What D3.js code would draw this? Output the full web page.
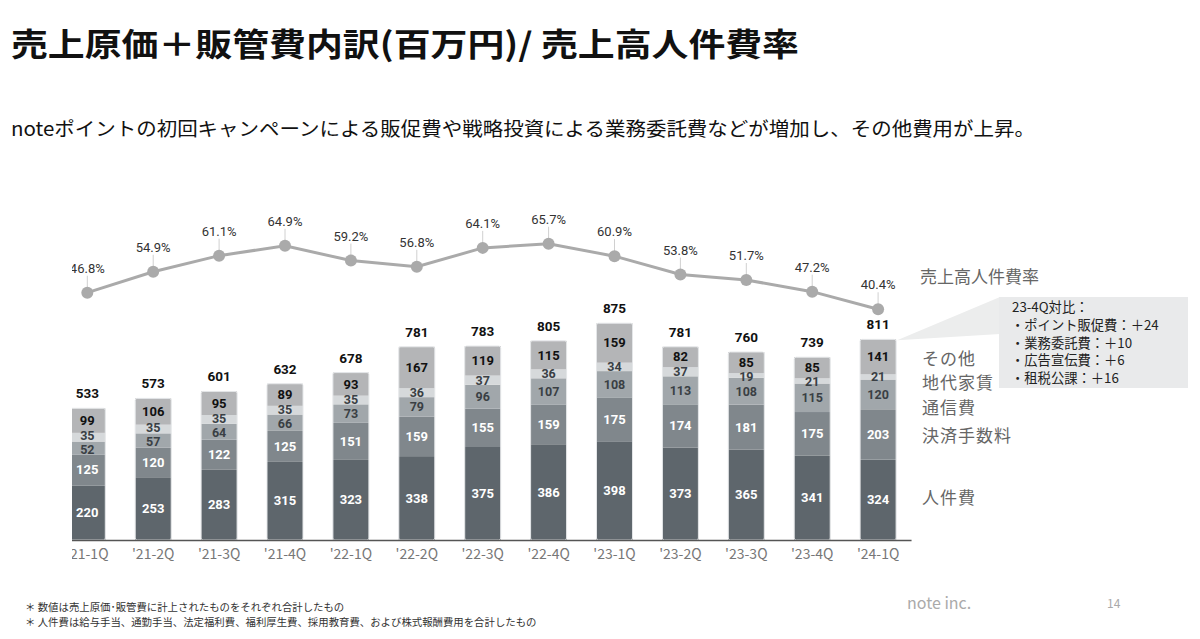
<!DOCTYPE html>
<html><head><meta charset="utf-8">
<script src="https://cdn.jsdelivr.net/npm/d3@7/dist/d3.min.js"></script>
<style>
html,body{margin:0;padding:0;background:#fff;}
svg{display:block;}
text{font-family:"Noto Sans CJK JP","Noto Sans",sans-serif;}
.num{font-family:Roboto,"Noto Sans",sans-serif;}
</style></head>
<body>
<svg id="c" width="1200" height="639"></svg>
<script>
const quarters = ["'21-1Q","'21-2Q","'21-3Q","'21-4Q","'22-1Q","'22-2Q","'22-3Q","'22-4Q","'23-1Q","'23-2Q","'23-3Q","'23-4Q","'24-1Q"];
const personnel = [220,253,283,315,323,338,375,386,398,373,365,341,324];
const payment   = [125,120,122,125,151,159,155,159,175,174,181,175,203];
const telecom   = [52,57,64,66,73,79,96,107,108,113,108,115,120];
const rent      = [35,35,35,35,35,36,37,36,34,37,19,21,21];
const other     = [99,106,95,89,93,167,119,115,159,82,85,85,141];
const totals    = [533,573,601,632,678,781,783,805,875,781,760,739,811];
const ratio     = [46.8,54.9,61.1,64.9,59.2,56.8,64.1,65.7,60.9,53.8,51.7,47.2,40.4];
const seriesNames = ["人件費","決済手数料","通信費","地代家賃","その他"];
const seriesData = [personnel,payment,telecom,rent,other];
const ratioName = "売上高人件費率";
const calloutLines = ["23-4Q対比：","・ポイント販促費：＋24","・業務委託費：＋10","・広告宣伝費：＋6","・租税公課：＋16"];
const footnotes = ["＊ 数値は売上原価･販管費に計上されたものをそれぞれ合計したもの","＊ 人件費は給与手当、通勤手当、法定福利費、福利厚生費、採用教育費、および株式報酬費用を合計したもの"];

const colors = ["#5e666c","#80878c","#a1a7ab","#d6d9db","#b4b5b7"];
const labelColors = ["#ffffff","#ffffff","#3a3f44","#3a3f44","#111111"];
const labelSizes = [13,13,12.5,12.5,13];
const legendY = [498,436,408,383,359];

const svg = d3.select("#c");

svg.append("text").attr("x",11).attr("y",56).attr("font-size",32).attr("font-weight",700)
  .attr("fill","#111").attr("textLength",788).attr("lengthAdjust","spacingAndGlyphs")
  .text("売上原価＋販管費内訳(百万円)/ 売上高人件費率");
svg.append("text").attr("x",11).attr("y",136).attr("font-size",19)
  .attr("fill","#111").attr("textLength",1024).attr("lengthAdjust","spacingAndGlyphs")
  .text("noteポイントの初回キャンペーンによる販促費や戦略投資による業務委託費などが増加し、その他費用が上昇。");

const x = d3.scaleBand().domain(quarters).range([54.35,911.05]).paddingInner(0.454).paddingOuter(0.227);
const y = d3.scaleLinear().domain([0,875]).range([540,323]);
const yr = d3.scaleLinear().domain([40,70]).range([310.3,232.6]);

svg.append("defs").append("clipPath").attr("id","clipL")
  .append("rect").attr("x",72).attr("y",0).attr("width",1128).attr("height",639);

const g = svg.append("g").attr("clip-path","url(#clipL)");

const rows = quarters.map((q,i)=>{const o={q}; seriesNames.forEach((s,k)=>o[s]=seriesData[k][i]); return o;});
const stack = d3.stack().keys(seriesNames)(rows);

stack.forEach((layer,k)=>{
  g.append("g").selectAll("rect").data(layer).join("rect")
    .attr("x",d=>x(d.data.q)).attr("width",x.bandwidth())
    .attr("y",d=>y(d[1])).attr("height",d=>y(d[0])-y(d[1]))
    .attr("fill",colors[k]);
});
g.append("g").selectAll("rect").data(stack[4]).join("rect")
  .attr("x",d=>x(d.data.q)).attr("width",x.bandwidth())
  .attr("y",d=>y(d[1])).attr("height",d=>y(0)-y(d[1]))
  .attr("fill","none").attr("stroke","#e4e6e8").attr("stroke-width",1).attr("rx",2);

const minGap = 14;
const labelPos = quarters.map((q,i)=>{
  const ys = stack.map(layer=>(y(layer[i][0])+y(layer[i][1]))/2);
  for(let iter=0;iter<8;iter++){
    for(let k=1;k<ys.length;k++){
      const gap = ys[k-1]-ys[k];
      if(gap<minGap){const sh=(minGap-gap)/2; ys[k-1]+=sh; ys[k]-=sh;}
    }
  }
  return ys;
});

stack.forEach((layer,k)=>{
  g.append("g").selectAll("text").data(layer).join("text").attr("class","num")
    .attr("x",d=>x(d.data.q)+x.bandwidth()/2)
    .attr("y",(d,i)=>labelPos[i][k]+4.5)
    .attr("text-anchor","middle").attr("font-size",labelSizes[k]).attr("font-weight",700)
    .attr("fill",labelColors[k]).text(d=>d.data[seriesNames[k]]);
});
g.append("g").selectAll("text").data(stack[4]).join("text").attr("class","num")
  .attr("x",d=>x(d.data.q)+x.bandwidth()/2).attr("y",(d,i)=>y(d[1])-10)
  .attr("text-anchor","middle").attr("font-size",13.5).attr("font-weight",700)
  .attr("fill","#111").text((d,i)=>totals[i]);

const ax = g.append("g").attr("transform","translate(0,540)")
  .call(d3.axisBottom(x).tickSize(0).tickPadding(9));
ax.select(".domain").attr("stroke","#555").attr("stroke-width",1.5);
ax.selectAll("text").attr("font-family","Roboto,sans-serif").attr("font-size",14).attr("fill","#777");

const cx = q=>x(q)+x.bandwidth()/2;
const pts = quarters.map((q,i)=>[cx(q),yr(ratio[i])]);
g.append("g").selectAll("line").data(pts).join("line")
  .attr("x1",d=>d[0]).attr("x2",d=>d[0]).attr("y1",d=>d[1]-17).attr("y2",d=>d[1])
  .attr("stroke","#d0d0d0").attr("stroke-width",1);
g.append("path").datum(pts).attr("d",d3.line()).attr("fill","none").attr("stroke","#aaaaaa").attr("stroke-width",3);
g.append("g").selectAll("circle").data(pts).join("circle")
  .attr("cx",d=>d[0]).attr("cy",d=>d[1]).attr("r",6).attr("fill","#aaaaaa");
g.append("g").selectAll("text").data(pts).join("text").attr("class","num")
  .attr("x",d=>d[0]).attr("y",d=>d[1]-20).attr("text-anchor","middle")
  .attr("font-size",13).attr("fill","#333").text((d,i)=>ratio[i].toFixed(1)+"%");

svg.append("text").attr("x",920).attr("y",283).attr("font-size",17).attr("fill","#666").text(ratioName);
seriesNames.forEach((s,k)=>{
  svg.append("text").attr("x",922).attr("y",legendY[k]+6).attr("font-size",17).attr("fill","#666")
    .attr("letter-spacing",1).text(s);
});

const lastTop = y(stack[4][12][1]);
const lastRight = x(quarters[12])+x.bandwidth();
svg.append("path").attr("d",`M${lastRight+1},${lastTop+1}L1000,297L1000,334Z`).attr("fill","#eceded");
svg.append("rect").attr("x",999).attr("y",297).attr("width",189).attr("height",91).attr("fill","#e9eaeb");
calloutLines.forEach((t,i)=>{
  svg.append("text").attr("x",i===0?1012:1011).attr("y",312+i*17.8).attr("font-size",13.3)
    .attr("fill","#222").text(t);
});

footnotes.forEach((t,i)=>{
  svg.append("text").attr("x",25).attr("y",611+i*15).attr("font-size",10.4).attr("fill","#333").text(t);
});
svg.append("text").attr("x",907).attr("y",609).attr("font-size",16).attr("fill","#aaa")
  .attr("font-family","Roboto,sans-serif").text("note inc.");
svg.append("text").attr("x",1107).attr("y",608).attr("font-size",12).attr("fill","#aaa")
  .attr("font-family","Roboto,sans-serif").text("14");
</script>
</body></html>
